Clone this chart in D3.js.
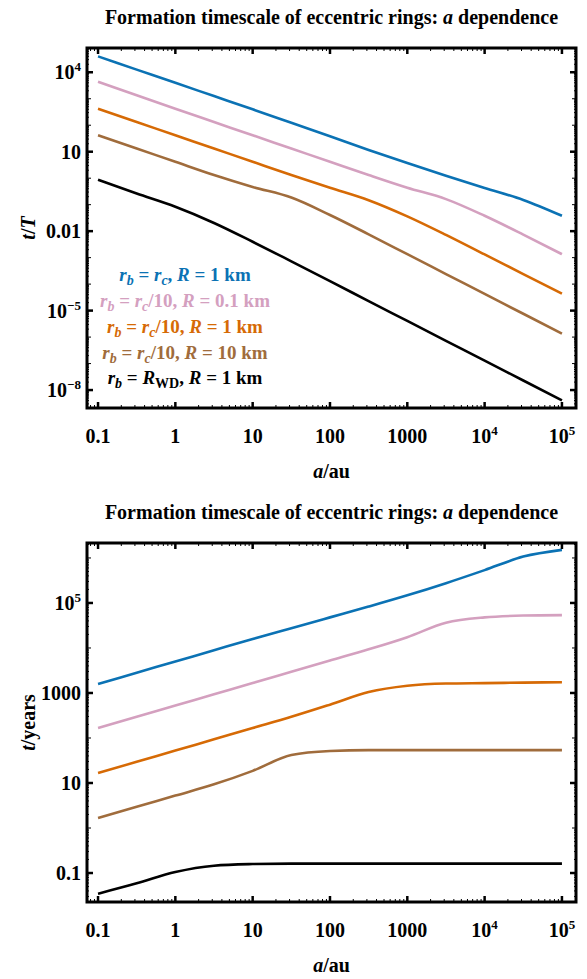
<!DOCTYPE html>
<html>
<head>
<meta charset="utf-8">
<script src="https://cdn.jsdelivr.net/npm/d3@7"></script>
<style>
  html, body { margin: 0; padding: 0; background: #fff; }
  svg { display: block; }
  text { font-family: "Liberation Serif", "Times New Roman", serif; font-weight: bold; fill: #000; }
</style>
</head>
<body>
<svg id="chart" width="587" height="979"></svg>
<script>
// ---------------- DATA ----------------
const titleText = "Formation timescale of eccentric rings: ";
const aGrid = [0.1, 0.3162, 1, 3.162, 10, 31.62, 100, 316.2, 1000, 3162, 1e4, 31620, 1e5];
const aTicks = [0.1, 1, 10, 100, 1000, 1e4, 1e5];
const aTickLabels = [["0.1"], ["1"], ["10"], ["100"], ["1000"], ["10", "4"], ["10", "5"]];

const ratioTicks = [1e4, 10, 0.01, 1e-5, 1e-8];
const ratioTickLabels = [["10", "4"], ["10"], ["0.01"], ["10", "\u22125"], ["10", "\u22128"]];
const yearTicks = [1e5, 1000, 10, 0.1];
const yearTickLabels = [["10", "5"], ["1000"], ["10"], ["0.1"]];

// t/T (top panel)
const blueRatio   = [39810, 12590, 3981, 1259, 398, 123, 38.0, 11.7, 3.72, 1.23, 0.427, 0.151, 0.038];
const pinkRatio   = [4365, 1349, 417, 132, 41.7, 13.2, 4.17, 1.32, 0.437, 0.162, 0.038, 0.00741, 0.00135];
const orangeRatio = [417, 132, 41.7, 13.2, 4.17, 1.32, 0.437, 0.148, 0.0363, 0.00724, 0.00132, 0.00024, 4.37e-5];
const brownRatio  = [41.7, 13.2, 4.17, 1.32, 0.468, 0.186, 0.0407, 0.00759, 0.00135, 2.40e-4, 4.27e-5, 7.59e-6, 1.35e-6];
const blackRatio  = [0.871, 0.263, 0.0832, 0.0204, 0.00398, 7.24e-4, 1.29e-4, 2.29e-5, 4.07e-6, 7.24e-7, 1.29e-7, 2.29e-8, 4.07e-9];

// t in years (bottom panel)
const blueYears   = [1585, 2818, 5012, 8913, 15850, 27540, 47860, 83180, 147900, 275400, 537000, 1072000, 1514000];
const pinkYears   = [166, 295, 525, 933, 1660, 2951, 5248, 9333, 17380, 36310, 47860, 52480, 53700];
const orangeYears = [16.6, 29.5, 52.5, 93.3, 166, 295, 550, 1047, 1445, 1622, 1660, 1698, 1738];
const brownYears  = [1.66, 2.95, 5.25, 9.33, 18.6, 41.7, 51.3, 53.7, 53.7, 53.7, 53.7, 53.7, 53.7];
const blackYears  = [0.0347, 0.0589, 0.105, 0.145, 0.158, 0.162, 0.162, 0.162, 0.162, 0.162, 0.162, 0.162, 0.162];

const seriesColors = ["#0b72b4", "#d4a0bf", "#d66a05", "#a06c3c", "#000000"];
// legend: parts {t, i: italic, sub: subscript}
const legendLabels = [
  [{t:"r",i:1},{t:"b",i:1,sub:1},{t:" = "},{t:"r",i:1},{t:"c",i:1,sub:1},{t:", "},{t:"R",i:1},{t:" = 1 km"}],
  [{t:"r",i:1},{t:"b",i:1,sub:1},{t:" = "},{t:"r",i:1},{t:"c",i:1,sub:1},{t:"/10, "},{t:"R",i:1},{t:" = 0.1 km"}],
  [{t:"r",i:1},{t:"b",i:1,sub:1},{t:" = "},{t:"r",i:1},{t:"c",i:1,sub:1},{t:"/10, "},{t:"R",i:1},{t:" = 1 km"}],
  [{t:"r",i:1},{t:"b",i:1,sub:1},{t:" = "},{t:"r",i:1},{t:"c",i:1,sub:1},{t:"/10, "},{t:"R",i:1},{t:" = 10 km"}],
  [{t:"r",i:1},{t:"b",i:1,sub:1},{t:" = "},{t:"R",i:1},{t:"WD",sub:1},{t:", "},{t:"R",i:1},{t:" = 1 km"}]
];

// ---------------- DRAW ----------------
const svg = d3.select("#chart");

function rich(sel, parts, subShift, subSize) {
  let cur = 0;
  parts.forEach(p => {
    const target = p.sub ? subShift : (p.sup ? -subShift * 1.8 : 0);
    const ts = sel.append("tspan").text(p.t).attr("dy", target - cur);
    cur = target;
    if (p.i) ts.attr("font-style", "italic");
    if (p.sub || p.sup) ts.attr("font-size", subSize);
  });
}

function tickLabel(sel, parts) {
  sel.append("tspan").text(parts[0]);
  if (parts.length > 1) {
    sel.append("tspan").text(parts[1]).attr("dy", -8).attr("font-size", 13);
  }
}

const panels = [
  { left: 87, right: 576, top: 48, bottom: 408, yDomain: [2.1e-9, 8.24e4],
    ticks: ratioTicks, tickLabels: ratioTickLabels,
    series: [blueRatio, pinkRatio, orangeRatio, brownRatio, blackRatio],
    titleY: 24, xLabelY: 478, yTitle: [{t:"t",i:1},{t:"/"},{t:"T",i:1}], legend: true },
  { left: 87, right: 576, top: 543, bottom: 902, yDomain: [0.0227, 2.15e6],
    ticks: yearTicks, tickLabels: yearTickLabels,
    series: [blueYears, pinkYears, orangeYears, brownYears, blackYears],
    titleY: 519, xLabelY: 972, yTitle: [{t:"t",i:1},{t:"/years"}], legend: false }
];

panels.forEach((p, pi) => {
  const x = d3.scaleLog().domain([0.0720, 1.52e5]).range([p.left, p.right]);
  const y = d3.scaleLog().domain(p.yDomain).range([p.bottom, p.top]);
  const g = svg.append("g");
  const cx = (p.left + p.right) / 2;

  // title
  const tt = g.append("text").attr("x", cx).attr("y", p.titleY).attr("text-anchor", "middle")
    .attr("font-size", 20);
  rich(tt, [{t: titleText}, {t: "a", i: 1}, {t: " dependence"}], 0, 20);

  // clip
  const clipId = "clip" + pi;
  svg.append("clipPath").attr("id", clipId).append("rect")
    .attr("x", p.left).attr("y", p.top).attr("width", p.right - p.left).attr("height", p.bottom - p.top);

  // curves
  const line = d3.line().x((d, i) => x(aGrid[i])).y(d => y(d)).curve(d3.curveMonotoneX);
  p.series.forEach((s, si) => {
    g.append("path").attr("d", line(s)).attr("fill", "none")
      .attr("stroke", seriesColors[si]).attr("stroke-width", 2.6)
      .attr("clip-path", `url(#${clipId})`);
  });

  // minor ticks x
  const minorX = [];
  for (let k = -2; k <= 5; k++) for (let m = 2; m <= 9; m++) {
    const v = m * Math.pow(10, k);
    if (v > x.domain()[0] && v < x.domain()[1]) minorX.push(v);
  }
  minorX.forEach(v => {
    [[p.bottom, -3], [p.top, 3]].forEach(([yy, len]) => {
      g.append("line").attr("x1", x(v)).attr("x2", x(v)).attr("y1", yy).attr("y2", yy + len)
        .attr("stroke", "#000").attr("stroke-width", 1);
    });
  });
  // minor ticks y (decades and sub-decades)
  const lo = Math.floor(Math.log10(p.yDomain[0])), hi = Math.ceil(Math.log10(p.yDomain[1]));
  for (let k = lo; k <= hi; k++) for (let m = 1; m <= 9; m++) {
    const v = m * Math.pow(10, k);
    if (v <= p.yDomain[0] || v >= p.yDomain[1]) continue;
    if (p.ticks.some(t => Math.abs(Math.log10(t) - Math.log10(v)) < 1e-6)) continue;
    const len = m === 1 ? 4 : 2;
    [[p.left, len], [p.right, -len]].forEach(([xx, l]) => {
      g.append("line").attr("x1", xx).attr("x2", xx + l).attr("y1", y(v)).attr("y2", y(v))
        .attr("stroke", "#000").attr("stroke-width", 1);
    });
  }

  // major ticks x
  aTicks.forEach((v, i) => {
    [[p.bottom, -6], [p.top, 6]].forEach(([yy, len]) => {
      g.append("line").attr("x1", x(v)).attr("x2", x(v)).attr("y1", yy).attr("y2", yy + len)
        .attr("stroke", "#000").attr("stroke-width", 2.5);
    });
    const t = g.append("text").attr("x", x(v)).attr("y", p.bottom + 35)
      .attr("text-anchor", "middle").attr("font-size", 20);
    tickLabel(t, aTickLabels[i]);
  });
  // major ticks y
  p.ticks.forEach((v, i) => {
    [[p.left, 6], [p.right, -6]].forEach(([xx, len]) => {
      g.append("line").attr("x1", xx).attr("x2", xx + len).attr("y1", y(v)).attr("y2", y(v))
        .attr("stroke", "#000").attr("stroke-width", 2.5);
    });
    const t = g.append("text").attr("x", p.left - 6).attr("y", y(v) + 7)
      .attr("text-anchor", "end").attr("font-size", 20);
    tickLabel(t, p.tickLabels[i]);
  });

  // frame
  g.append("rect").attr("x", p.left).attr("y", p.top)
    .attr("width", p.right - p.left).attr("height", p.bottom - p.top)
    .attr("fill", "none").attr("stroke", "#000").attr("stroke-width", 3);

  // axis titles
  const xl = g.append("text").attr("x", cx).attr("y", p.xLabelY).attr("text-anchor", "middle")
    .attr("font-size", 20);
  rich(xl, [{t: "a", i: 1}, {t: "/au"}], 0, 20);
  const ycy = (p.top + p.bottom) / 2;
  const yl = g.append("text").attr("transform", `translate(35,${ycy}) rotate(-90)`)
    .attr("text-anchor", "middle").attr("font-size", 20);
  rich(yl, p.yTitle, 0, 20);

  // legend
  if (p.legend) {
    const ly = [281, 307, 333, 359, 384];
    legendLabels.forEach((parts, i) => {
      const t = g.append("text").attr("x", 185).attr("y", ly[i]).attr("text-anchor", "middle")
        .attr("font-size", 19).style("fill", seriesColors[i]);
      rich(t, parts, 4, 14);
    });
  }
});
</script>
</body>
</html>
